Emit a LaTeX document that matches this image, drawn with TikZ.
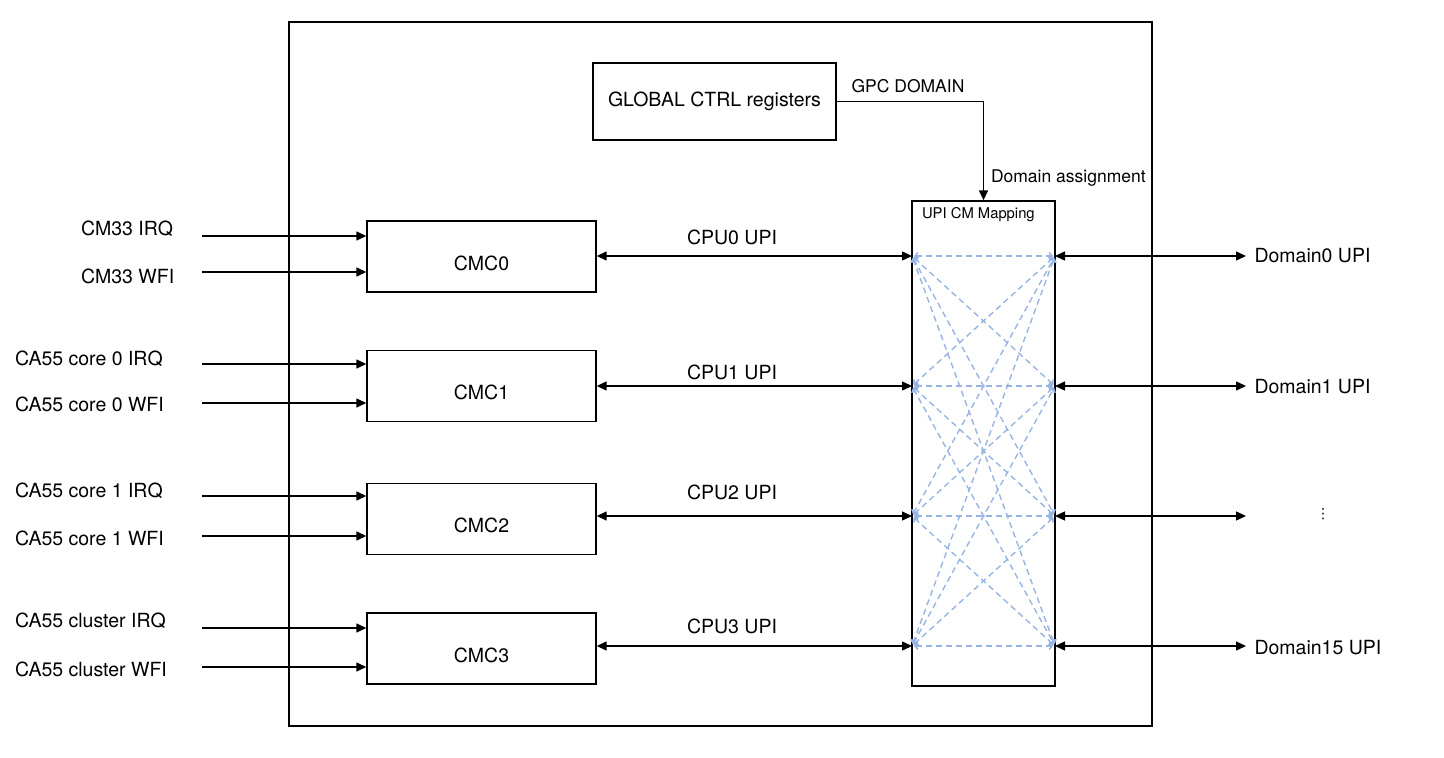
\documentclass[tikz,border=0pt]{standalone}
\usepackage{fontspec}
\setmainfont{TeX Gyre Heros}
\newfontfamily\dejavu{DejaVu Sans}
\usetikzlibrary{arrows.meta,positioning}

\definecolor{meshblue}{RGB}{152,180,226}
\tikzset{
  blk/.style={draw,line width=1.4pt,inner sep=0pt},
  mesh/.style={meshblue,line width=1.4pt,dash pattern=on 6pt off 4pt,
    {Straight Barb[length=3pt,width=7pt]}-{Straight Barb[length=3pt,width=7pt]}},
  small/.style={font=\fontsize{17.5}{20}\selectfont}
}
\newcommand{\lowtext}[1]{\raisebox{-6.5pt}[\height][\depth]{#1}}

\begin{document}
\begin{tikzpicture}[x=1pt,y=-1pt,>={Triangle[length=10pt,width=9pt]},
    font=\fontsize{19.5}{23}\selectfont,line width=1.4pt]
  \useasboundingbox (0,0) rectangle (1444,758);
  \draw (289,22) rectangle (1152,726);

  % control block and the mapping matrix
  \node[blk,minimum width=243,minimum height=77] (glob) at (714.5,101.5) {GLOBAL CTRL registers};
  \node[blk,minimum width=143,minimum height=485] (map) at (983.5,443.5) {};
  \node[anchor=west,font=\fontsize{14.8}{17}\selectfont] (maplab) at (918,215) {UPI CM Mapping};
  \draw[->] (glob.east) -| (map.north);
  \node[small] (gpc) at (908,86) {GPC DOMAIN};
  \node[small,anchor=west] (assign) at (987,178) {Domain assignment};

  % cluster controllers
  \node[blk,minimum width=229,minimum height=71] (cmc0) at (481.5,256.5) {\lowtext{CMC0}};
  \node[blk,minimum width=229,minimum height=71] (cmc1) at (481.5,386) {\lowtext{CMC1}};
  \node[blk,minimum width=229,minimum height=71] (cmc2) at (481.5,519) {\lowtext{CMC2}};
  \node[blk,minimum width=229,minimum height=71] (cmc3) at (481.5,648.5) {\lowtext{CMC3}};

  % wake-up inputs
  \node[anchor=west] (irq0) at (77,229) {CM33 IRQ};
  \node[anchor=west] (wfi0) at (77,276) {CM33 WFI};
  \node[anchor=west] (irq1) at (11,359) {CA55 core 0 IRQ};
  \node[anchor=west] (wfi1) at (11,404) {CA55 core 0 WFI};
  \node[anchor=west] (irq2) at (11,491) {CA55 core 1 IRQ};
  \node[anchor=west] (wfi2) at (11,538) {CA55 core 1 WFI};
  \node[anchor=west] (irq3) at (11,621) {CA55 cluster IRQ};
  \node[anchor=west] (wfi3) at (11,669) {CA55 cluster WFI};
  \coordinate (sa0) at (202,236);
  \coordinate (sb0) at (202,272);
  \coordinate (sa1) at (202,364);
  \coordinate (sb1) at (202,403);
  \coordinate (sa2) at (202,496);
  \coordinate (sb2) at (202,536);
  \coordinate (sa3) at (202,628);
  \coordinate (sb3) at (202,667);
  \draw[->] (sa0) -- (sa0 -| cmc0.west);
  \draw[->] (sb0) -- (sb0 -| cmc0.west);
  \draw[->] (sa1) -- (sa1 -| cmc1.west);
  \draw[->] (sb1) -- (sb1 -| cmc1.west);
  \draw[->] (sa2) -- (sa2 -| cmc2.west);
  \draw[->] (sb2) -- (sb2 -| cmc2.west);
  \draw[->] (sa3) -- (sa3 -| cmc3.west);
  \draw[->] (sb3) -- (sb3 -| cmc3.west);

  % CPU side of the matrix
  \coordinate (l0) at (912,256);
  \coordinate (l1) at (912,386);
  \coordinate (l2) at (912,516);
  \coordinate (l3) at (912,646);
  \draw[<->] (cmc0.east |- l0) -- (l0);
  \draw[<->] (cmc1.east |- l1) -- (l1);
  \draw[<->] (cmc2.east |- l2) -- (l2);
  \draw[<->] (cmc3.east |- l3) -- (l3);
  \node (cpu0) at (732,237) {CPU0 UPI};
  \node (cpu1) at (732,372) {CPU1 UPI};
  \node (cpu2) at (732,492) {CPU2 UPI};
  \node (cpu3) at (732,626) {CPU3 UPI};

  % domain side of the matrix
  \coordinate (r0) at (1055,256);
  \coordinate (r1) at (1055,386);
  \coordinate (r2) at (1055,516);
  \coordinate (r3) at (1055,646);
  \coordinate (d0) at (1246,256);
  \coordinate (d1) at (1246,386);
  \coordinate (d2) at (1246,516);
  \coordinate (d3) at (1246,646);
  \draw[<->] (r0) -- (d0);
  \draw[<->] (r1) -- (d1);
  \draw[<->] (r2) -- (d2);
  \draw[<->] (r3) -- (d3);
  \node[anchor=west] (dom0) at (1250.5,256) {Domain0 UPI};
  \node[anchor=west] (dom1) at (1250.5,387) {Domain1 UPI};
  \node[font=\dejavu\fontsize{14}{16}\selectfont] (domx) at (1323,514) {⋮};
  \node[anchor=west] (dom3) at (1250.5,648) {Domain15 UPI};

  % any CPU to any domain
  \foreach \i in {0,...,3}
    \foreach \j in {0,...,3}
      \draw[mesh,shorten <=2pt,shorten >=2pt] (l\i) -- (r\j);
\end{tikzpicture}
\end{document}
